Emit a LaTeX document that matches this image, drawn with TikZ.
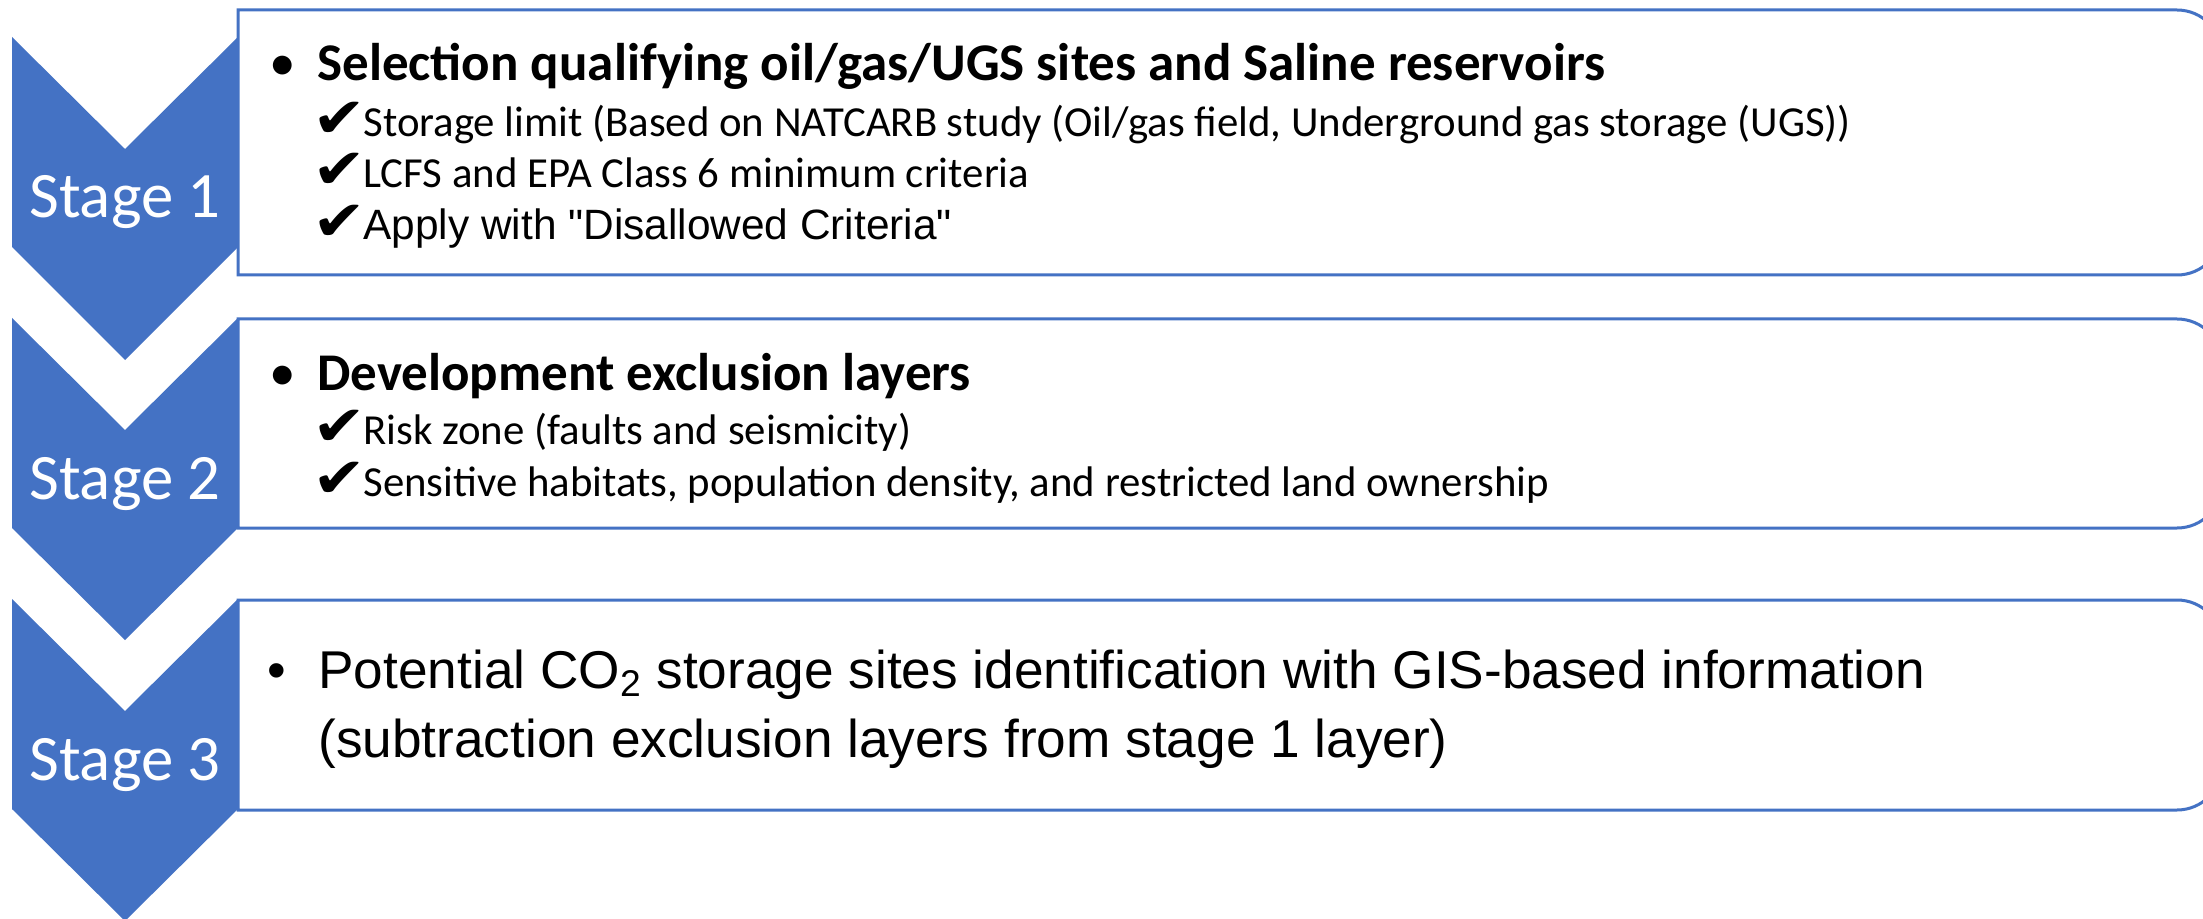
\documentclass[tikz,border=0pt]{standalone}
\usepackage{fontspec}
\setmainfont{Carlito}
\newfontfamily\arialf{Liberation Sans}
\newfontfamily\djv{DejaVu Sans}
\definecolor{sblue}{HTML}{4472C4}
\begin{document}
\begin{tikzpicture}[x=0.5pt,y=-0.5pt,
  chev/.style={fill=sblue,draw=none},
  boxline/.style={draw=sblue,line width=1.5pt},
  stagelbl/.style={anchor=base,inner sep=0pt,text=white,font=\fontsize{32.4}{38}\selectfont},
  bul/.style={anchor=base,inner sep=0pt,font=\fontsize{26.6}{30}\selectfont},
  title/.style={anchor=base west,inner sep=0pt,font=\fontsize{26.5}{30}\selectfont\bfseries},
  item/.style={anchor=base west,inner sep=0pt,font=\fontsize{21.4}{26}\selectfont},
  aitem/.style={anchor=base west,inner sep=0pt,font=\arialf\fontsize{21.2}{26}\selectfont},
  big/.style={anchor=base west,inner sep=0pt,font=\arialf\fontsize{26.6}{30}\selectfont},
  chk/.style={anchor=base west,inner sep=0pt,xscale=1.15,font=\djv\bfseries\fontsize{28}{30}\selectfont}]
\useasboundingbox (0,0) rectangle (2203,919);
\fill[white] (0,0) rectangle (2203,919);
% boxes
\draw[boxline] (238,10) -- (2177,10) arc(-90:0:45) -- (2222,230) arc(0:90:45) -- (238,275) -- cycle;
\draw[boxline] (238,319) -- (2177,319) arc(-90:0:45) -- (2222,483) arc(0:90:45) -- (238,528) -- cycle;
\draw[boxline] (238,600) -- (2177,600) arc(-90:0:45) -- (2222,765) arc(0:90:45) -- (238,810) -- cycle;
% chevrons
\fill[chev] (12,37) -- (125,149) -- (238,37) -- (238,247) -- (125,360) -- (12,247) -- cycle;
\fill[chev] (12,318) -- (125,430) -- (238,318) -- (238,528) -- (125,640) -- (12,528) -- cycle;
\fill[chev] (12,599) -- (125,711) -- (238,599) -- (238,809) -- (125,921) -- (12,809) -- cycle;
\node[stagelbl] (s1) at (125,218) {Stage 1};
\node[stagelbl] (s2) at (125,499) {Stage 2};
\node[stagelbl] (s3) at (125,780) {Stage 3};
% box 1
\node[bul] (b1) at (283,81) {•};
\node[title] (t1) at (317,81) {Selection qualifying oil/gas/UGS sites and Saline reservoirs};
\node[chk] (k11) at (312,138) {✔};
\node[item] (i11) at (363,137) {Storage limit (Based on NATCARB study (Oil/gas field, Underground gas storage (UGS))};
\node[chk] (k12) at (312,189) {✔};
\node[item] (i12) at (363,188) {LCFS and EPA Class 6 minimum criteria};
\node[chk] (k13) at (312,241) {✔};
\node[aitem] (i13) at (363,240) {Apply with "Disallowed Criteria"};
% box 2
\node[bul] (b2) at (283,390) {•};
\node[title] (t2) at (317,390) {Development exclusion layers};
\node[chk] (k21) at (312,445) {✔};
\node[item] (i21) at (363,444) {Risk zone (faults and seismicity)};
\node[chk] (k22) at (312,497) {✔};
\node[item] (i22) at (363,496) {Sensitive habitats, population density, and restricted land ownership};
% box 3
\node[bul,font=\arialf\fontsize{26.6}{30}\selectfont] (b3) at (277,688) {•};
\node[big] (t3) at (318,688) {Potential CO\textsubscript{2} storage sites identification with GIS-based information};
\node[big] (t3b) at (318,757) {(subtraction exclusion layers from stage 1 layer)};
\end{tikzpicture}
\end{document}
